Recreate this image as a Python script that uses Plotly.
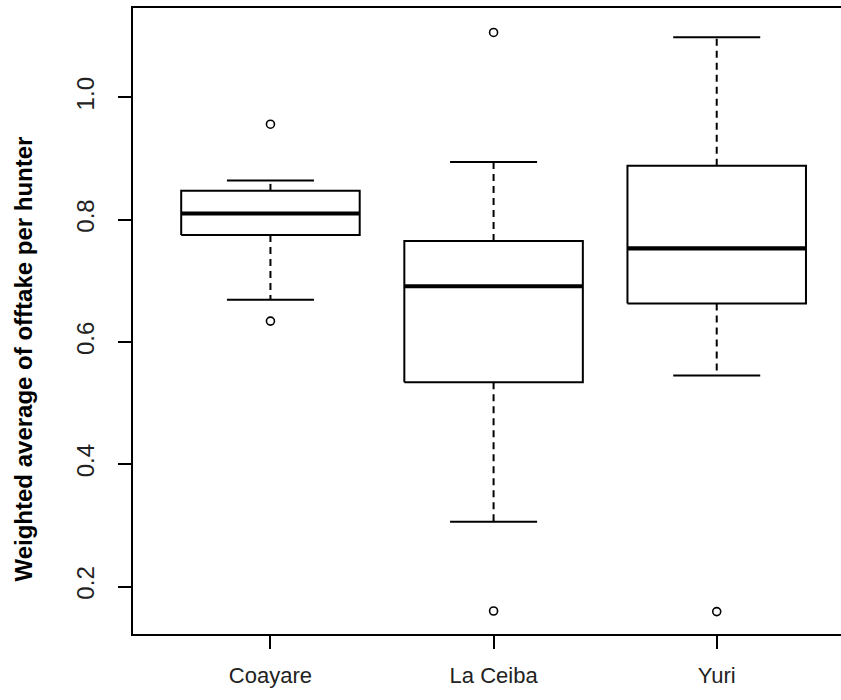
import plotly.graph_objects as go

categories = ["Coayare", "La Ceiba", "Yuri"]
lower_whisker = [0.669, 0.306, 0.545]
q1 = [0.775, 0.534, 0.663]
median = [0.810, 0.691, 0.753]
q3 = [0.847, 0.765, 0.888]
upper_whisker = [0.864, 0.894, 1.098]
outlier_group = ["Coayare", "Coayare", "La Ceiba", "La Ceiba", "Yuri"]
outlier_values = [0.956, 0.634, 1.106, 0.160, 0.159]
y_ticks = [0.2, 0.4, 0.6, 0.8, 1.0]
y_tick_labels = ["0.2", "0.4", "0.6", "0.8", "1.0"]

BOX_W = 0.8
CAP_W = 0.39
pos = {c: i + 1 for i, c in enumerate(categories)}

box_x, box_y = [], []
med_x, med_y = [], []
wh_x, wh_y = [], []
cap_x, cap_y = [], []
for i, c in enumerate(categories):
    p = pos[c]
    l, r = p - BOX_W / 2, p + BOX_W / 2
    box_x += [l, r, r, l, l, None]
    box_y += [q1[i], q1[i], q3[i], q3[i], q1[i], None]
    med_x += [l, r, None]
    med_y += [median[i], median[i], None]
    wh_x += [p, p, None, p, p, None]
    wh_y += [q3[i], upper_whisker[i], None, q1[i], lower_whisker[i], None]
    cl, cr = p - CAP_W / 2, p + CAP_W / 2
    cap_x += [cl, cr, None, cl, cr, None]
    cap_y += [upper_whisker[i], upper_whisker[i], None, lower_whisker[i], lower_whisker[i], None]

fig = go.Figure()
fig.add_trace(go.Scatter(x=wh_x, y=wh_y, mode="lines",
                         line=dict(color="black", width=2, dash="7px,5px"),
                         hoverinfo="skip", showlegend=False))
fig.add_trace(go.Scatter(x=cap_x, y=cap_y, mode="lines",
                         line=dict(color="black", width=2),
                         hoverinfo="skip", showlegend=False))
fig.add_trace(go.Scatter(x=box_x, y=box_y, mode="lines",
                         line=dict(color="black", width=2),
                         fill="toself", fillcolor="white",
                         hoverinfo="skip", showlegend=False))
fig.add_trace(go.Scatter(x=med_x, y=med_y, mode="lines",
                         line=dict(color="black", width=4.2),
                         hoverinfo="skip", showlegend=False))
fig.add_trace(go.Scatter(x=[pos[g] for g in outlier_group], y=outlier_values,
                         mode="markers",
                         marker=dict(symbol="circle-open", size=8, color="black",
                                     line=dict(width=1.6, color="black")),
                         showlegend=False))

font_family = "Liberation Sans, Arial, sans-serif"
fig.update_layout(
    width=841, height=700,
    margin=dict(l=133, r=0, t=8, b=66),
    plot_bgcolor="white", paper_bgcolor="white",
    font=dict(family=font_family, color="black", size=20),
    showlegend=False,
    xaxis=dict(range=[0.384, 3.557], tickmode="array", tickvals=[1, 2, 3],
               ticktext=categories, ticks="outside", ticklen=13, tickwidth=2,
               tickcolor="black", showline=True, linewidth=2, linecolor="black",
               mirror=True, showgrid=False, zeroline=False,
               ticklabelstandoff=8, tickfont=dict(size=22, color="#222")),
    yaxis=dict(range=[0.1224, 1.146], tickmode="array", tickvals=y_ticks,
               ticktext=y_tick_labels, tickangle=-90, ticks="outside", ticklen=13,
               tickwidth=2, tickcolor="black", showline=True, linewidth=2,
               linecolor="black", mirror=False, showgrid=False, zeroline=False,
               ticklabelstandoff=14, tickfont=dict(size=24, color="#222")),
    annotations=[dict(text="<b>Weighted average of offtake per hunter</b>",
                      xref="paper", yref="paper", x=-0.154, y=0.44,
                      xanchor="center", yanchor="middle", textangle=-90,
                      showarrow=False, font=dict(size=24, color="black"))],
)

fig.write_html("out.html")
